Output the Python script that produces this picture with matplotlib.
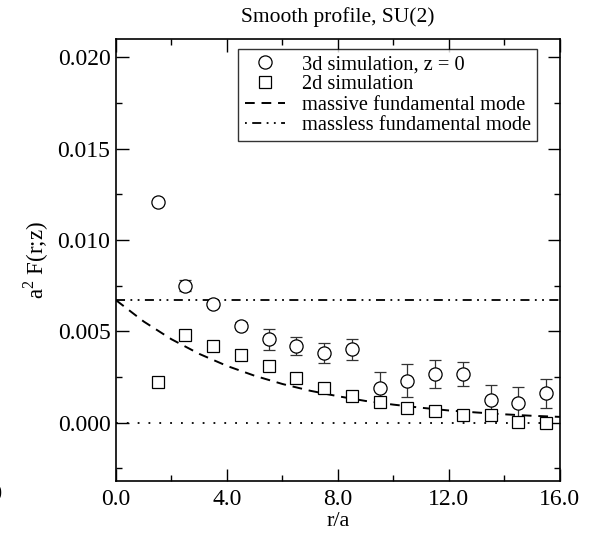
import matplotlib

matplotlib.use("Agg")

import matplotlib.pyplot as plt
from matplotlib.lines import Line2D
from matplotlib.ticker import MultipleLocator, FormatStrFormatter

# 3d simulation, z = 0 (circles with error bars)
r_3d = [1.5, 2.5, 3.5, 4.5, 5.5, 6.5, 7.5, 8.5, 9.5, 10.5, 11.5, 12.5, 13.5, 14.5, 15.5]
f_3d = [0.0121, 0.0075, 0.0065, 0.0053, 0.00455, 0.0042, 0.0038, 0.0040, 0.0019,
        0.0023, 0.00265, 0.00265, 0.00125, 0.00105, 0.0016]
err_3d = [0.0, 0.0003, 0.0002, 0.0002, 0.00058, 0.00048, 0.00055, 0.00059, 0.00089,
          0.00088, 0.00077, 0.00065, 0.0008, 0.00092, 0.0008]

# 2d simulation (squares)
r_2d = [1.5, 2.5, 3.5, 4.5, 5.5, 6.5, 7.5, 8.5, 9.5, 10.5, 11.5, 12.5, 13.5, 14.5, 15.5]
f_2d = [0.0022, 0.0048, 0.0042, 0.0037, 0.0031, 0.00246, 0.0019, 0.00143, 0.0011,
        0.00078, 0.00065, 0.0004, 0.00043, 0.00005, 0.0]

# massive fundamental mode
r_massive = [0, 1, 2, 3, 4, 5, 6, 7, 8, 9, 10, 11, 12, 13, 14, 15, 16]
f_massive = [0.0067, 0.00553, 0.00456, 0.00376, 0.0031, 0.00256, 0.00211, 0.00174,
             0.00144, 0.00118, 0.00098, 0.00081, 0.00066, 0.00055, 0.00045, 0.00037, 0.00031]

# massless fundamental mode (flat)
r_massless = [0.0, 16.0]
f_massless = [0.0067, 0.0067]

x_ticks = [0.0, 4.0, 8.0, 12.0, 16.0]
y_ticks = [0.000, 0.005, 0.010, 0.015, 0.020]

plt.rcParams["font.family"] = ["Liberation Serif", "DejaVu Serif"]
plt.rcParams["mathtext.fontset"] = "custom"
plt.rcParams["mathtext.rm"] = "Liberation Serif"

fig = plt.figure(figsize=(5.9, 5.43), dpi=100)
ax = fig.add_axes([0.1966, 0.1142, 0.7525, 0.814])

ax.axhline(0.0, color="black", lw=1.3, linestyle=(0, (1, 5)))
ax.plot(r_massless, f_massless, color="black", lw=1.3, linestyle=(0, (5, 3, 1, 3, 1, 3)))
ax.plot(r_massive, f_massive, color="black", lw=1.4, linestyle=(0, (5, 3.5)))

ax.errorbar(r_3d, f_3d, yerr=err_3d, fmt="o", ms=9.5, mfc="white", mec="black", mew=0.9,
            ecolor="#333333", elinewidth=0.9, capsize=4.5, capthick=0.9, zorder=3)
ax.plot(r_2d, f_2d, "s", ms=8.5, mfc="white", mec="black", mew=0.9, zorder=4)

ax.set_xlim(0, 16)
ax.set_ylim(-0.0032, 0.021)
ax.set_xticks(x_ticks)
ax.set_yticks(y_ticks)
ax.xaxis.set_minor_locator(MultipleLocator(2.0))
ax.yaxis.set_minor_locator(MultipleLocator(0.0025))
ax.xaxis.set_major_formatter(FormatStrFormatter("%.1f"))
ax.yaxis.set_major_formatter(FormatStrFormatter("%.3f"))
ax.tick_params(which="both", direction="in", top=True, right=True, labelsize=17, width=1.0)
ax.tick_params(which="major", length=9)
ax.tick_params(axis="x", which="major", pad=6)
ax.tick_params(axis="y", which="major", pad=4)
ax.tick_params(which="minor", length=4.5)
for spine in ax.spines.values():
    spine.set_linewidth(1.2)

ax.set_xlabel("r/a", fontsize=16, labelpad=1)
ax.set_ylabel(r"a$^{\mathrm{2}}$ F(r;z)", fontsize=16.5, labelpad=5)
ax.set_title("Smooth profile, SU(2)", fontsize=15.5, pad=12)

handles = [
    Line2D([], [], marker="o", ls="none", ms=9.5, mfc="white", mec="black", mew=0.9),
    Line2D([], [], marker="s", ls="none", ms=8.5, mfc="white", mec="black", mew=0.9),
    Line2D([], [], color="black", lw=1.4, linestyle=(0, (5, 3.5))),
    Line2D([], [], color="black", lw=1.3, linestyle=(0, (1, 3, 5, 3, 1, 3))),
]
labels = ["3d simulation, z = 0", "2d simulation", "massive fundamental mode",
          "massless fundamental mode"]
leg = ax.legend(handles, labels, loc="upper right", bbox_to_anchor=(0.948, 0.978),
                fontsize=14.7, frameon=True, fancybox=False, edgecolor="black",
                handlelength=2.0, handletextpad=0.8, labelspacing=0.05,
                borderpad=0.3, borderaxespad=0.0)
leg.get_frame().set_linewidth(1.0)

# cut-off tick label of the neighbouring panel
fig.text(3 / 590, 1 - 495 / 543, "16.0", ha="right", va="center", fontsize=17)

fig.savefig("out.png", dpi=100)
